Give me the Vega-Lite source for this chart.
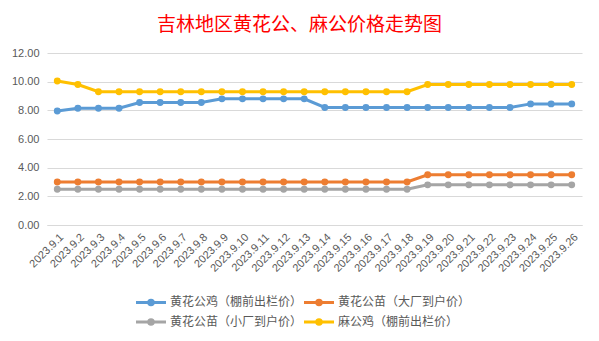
{
  "$schema": "https://vega.github.io/schema/vega-lite/v6.json",
  "width": 535,
  "height": 172,
  "autosize": {"type": "none"},
  "padding": {"left": 47, "top": 53, "right": 17, "bottom": 116},
  "background": "white",
  "title": {
    "text": "吉林地区黄花公、麻公价格走势图",
    "color": "#FF0000",
    "font": "Noto Sans CJK SC",
    "fontSize": 19,
    "fontWeight": "normal",
    "anchor": "middle",
    "dx": -15,
    "offset": 12
  },
  "data": {"values": [
    {"d":"2023.9.1","s":"黄花公鸡（棚前出栏价）","v":7.95},
    {"d":"2023.9.2","s":"黄花公鸡（棚前出栏价）","v":8.15},
    {"d":"2023.9.3","s":"黄花公鸡（棚前出栏价）","v":8.15},
    {"d":"2023.9.4","s":"黄花公鸡（棚前出栏价）","v":8.15},
    {"d":"2023.9.5","s":"黄花公鸡（棚前出栏价）","v":8.55},
    {"d":"2023.9.6","s":"黄花公鸡（棚前出栏价）","v":8.55},
    {"d":"2023.9.7","s":"黄花公鸡（棚前出栏价）","v":8.55},
    {"d":"2023.9.8","s":"黄花公鸡（棚前出栏价）","v":8.55},
    {"d":"2023.9.9","s":"黄花公鸡（棚前出栏价）","v":8.8},
    {"d":"2023.9.10","s":"黄花公鸡（棚前出栏价）","v":8.8},
    {"d":"2023.9.11","s":"黄花公鸡（棚前出栏价）","v":8.8},
    {"d":"2023.9.12","s":"黄花公鸡（棚前出栏价）","v":8.8},
    {"d":"2023.9.13","s":"黄花公鸡（棚前出栏价）","v":8.8},
    {"d":"2023.9.14","s":"黄花公鸡（棚前出栏价）","v":8.2},
    {"d":"2023.9.15","s":"黄花公鸡（棚前出栏价）","v":8.2},
    {"d":"2023.9.16","s":"黄花公鸡（棚前出栏价）","v":8.2},
    {"d":"2023.9.17","s":"黄花公鸡（棚前出栏价）","v":8.2},
    {"d":"2023.9.18","s":"黄花公鸡（棚前出栏价）","v":8.2},
    {"d":"2023.9.19","s":"黄花公鸡（棚前出栏价）","v":8.2},
    {"d":"2023.9.20","s":"黄花公鸡（棚前出栏价）","v":8.2},
    {"d":"2023.9.21","s":"黄花公鸡（棚前出栏价）","v":8.2},
    {"d":"2023.9.22","s":"黄花公鸡（棚前出栏价）","v":8.2},
    {"d":"2023.9.23","s":"黄花公鸡（棚前出栏价）","v":8.2},
    {"d":"2023.9.24","s":"黄花公鸡（棚前出栏价）","v":8.45},
    {"d":"2023.9.25","s":"黄花公鸡（棚前出栏价）","v":8.45},
    {"d":"2023.9.26","s":"黄花公鸡（棚前出栏价）","v":8.45},
    {"d":"2023.9.1","s":"黄花公苗（大厂到户价）","v":3.0},
    {"d":"2023.9.2","s":"黄花公苗（大厂到户价）","v":3.0},
    {"d":"2023.9.3","s":"黄花公苗（大厂到户价）","v":3.0},
    {"d":"2023.9.4","s":"黄花公苗（大厂到户价）","v":3.0},
    {"d":"2023.9.5","s":"黄花公苗（大厂到户价）","v":3.0},
    {"d":"2023.9.6","s":"黄花公苗（大厂到户价）","v":3.0},
    {"d":"2023.9.7","s":"黄花公苗（大厂到户价）","v":3.0},
    {"d":"2023.9.8","s":"黄花公苗（大厂到户价）","v":3.0},
    {"d":"2023.9.9","s":"黄花公苗（大厂到户价）","v":3.0},
    {"d":"2023.9.10","s":"黄花公苗（大厂到户价）","v":3.0},
    {"d":"2023.9.11","s":"黄花公苗（大厂到户价）","v":3.0},
    {"d":"2023.9.12","s":"黄花公苗（大厂到户价）","v":3.0},
    {"d":"2023.9.13","s":"黄花公苗（大厂到户价）","v":3.0},
    {"d":"2023.9.14","s":"黄花公苗（大厂到户价）","v":3.0},
    {"d":"2023.9.15","s":"黄花公苗（大厂到户价）","v":3.0},
    {"d":"2023.9.16","s":"黄花公苗（大厂到户价）","v":3.0},
    {"d":"2023.9.17","s":"黄花公苗（大厂到户价）","v":3.0},
    {"d":"2023.9.18","s":"黄花公苗（大厂到户价）","v":3.0},
    {"d":"2023.9.19","s":"黄花公苗（大厂到户价）","v":3.5},
    {"d":"2023.9.20","s":"黄花公苗（大厂到户价）","v":3.5},
    {"d":"2023.9.21","s":"黄花公苗（大厂到户价）","v":3.5},
    {"d":"2023.9.22","s":"黄花公苗（大厂到户价）","v":3.5},
    {"d":"2023.9.23","s":"黄花公苗（大厂到户价）","v":3.5},
    {"d":"2023.9.24","s":"黄花公苗（大厂到户价）","v":3.5},
    {"d":"2023.9.25","s":"黄花公苗（大厂到户价）","v":3.5},
    {"d":"2023.9.26","s":"黄花公苗（大厂到户价）","v":3.5},
    {"d":"2023.9.1","s":"黄花公苗（小厂到户价）","v":2.5},
    {"d":"2023.9.2","s":"黄花公苗（小厂到户价）","v":2.5},
    {"d":"2023.9.3","s":"黄花公苗（小厂到户价）","v":2.5},
    {"d":"2023.9.4","s":"黄花公苗（小厂到户价）","v":2.5},
    {"d":"2023.9.5","s":"黄花公苗（小厂到户价）","v":2.5},
    {"d":"2023.9.6","s":"黄花公苗（小厂到户价）","v":2.5},
    {"d":"2023.9.7","s":"黄花公苗（小厂到户价）","v":2.5},
    {"d":"2023.9.8","s":"黄花公苗（小厂到户价）","v":2.5},
    {"d":"2023.9.9","s":"黄花公苗（小厂到户价）","v":2.5},
    {"d":"2023.9.10","s":"黄花公苗（小厂到户价）","v":2.5},
    {"d":"2023.9.11","s":"黄花公苗（小厂到户价）","v":2.5},
    {"d":"2023.9.12","s":"黄花公苗（小厂到户价）","v":2.5},
    {"d":"2023.9.13","s":"黄花公苗（小厂到户价）","v":2.5},
    {"d":"2023.9.14","s":"黄花公苗（小厂到户价）","v":2.5},
    {"d":"2023.9.15","s":"黄花公苗（小厂到户价）","v":2.5},
    {"d":"2023.9.16","s":"黄花公苗（小厂到户价）","v":2.5},
    {"d":"2023.9.17","s":"黄花公苗（小厂到户价）","v":2.5},
    {"d":"2023.9.18","s":"黄花公苗（小厂到户价）","v":2.5},
    {"d":"2023.9.19","s":"黄花公苗（小厂到户价）","v":2.8},
    {"d":"2023.9.20","s":"黄花公苗（小厂到户价）","v":2.8},
    {"d":"2023.9.21","s":"黄花公苗（小厂到户价）","v":2.8},
    {"d":"2023.9.22","s":"黄花公苗（小厂到户价）","v":2.8},
    {"d":"2023.9.23","s":"黄花公苗（小厂到户价）","v":2.8},
    {"d":"2023.9.24","s":"黄花公苗（小厂到户价）","v":2.8},
    {"d":"2023.9.25","s":"黄花公苗（小厂到户价）","v":2.8},
    {"d":"2023.9.26","s":"黄花公苗（小厂到户价）","v":2.8},
    {"d":"2023.9.1","s":"麻公鸡（棚前出栏价）","v":10.05},
    {"d":"2023.9.2","s":"麻公鸡（棚前出栏价）","v":9.8},
    {"d":"2023.9.3","s":"麻公鸡（棚前出栏价）","v":9.3},
    {"d":"2023.9.4","s":"麻公鸡（棚前出栏价）","v":9.3},
    {"d":"2023.9.5","s":"麻公鸡（棚前出栏价）","v":9.3},
    {"d":"2023.9.6","s":"麻公鸡（棚前出栏价）","v":9.3},
    {"d":"2023.9.7","s":"麻公鸡（棚前出栏价）","v":9.3},
    {"d":"2023.9.8","s":"麻公鸡（棚前出栏价）","v":9.3},
    {"d":"2023.9.9","s":"麻公鸡（棚前出栏价）","v":9.3},
    {"d":"2023.9.10","s":"麻公鸡（棚前出栏价）","v":9.3},
    {"d":"2023.9.11","s":"麻公鸡（棚前出栏价）","v":9.3},
    {"d":"2023.9.12","s":"麻公鸡（棚前出栏价）","v":9.3},
    {"d":"2023.9.13","s":"麻公鸡（棚前出栏价）","v":9.3},
    {"d":"2023.9.14","s":"麻公鸡（棚前出栏价）","v":9.3},
    {"d":"2023.9.15","s":"麻公鸡（棚前出栏价）","v":9.3},
    {"d":"2023.9.16","s":"麻公鸡（棚前出栏价）","v":9.3},
    {"d":"2023.9.17","s":"麻公鸡（棚前出栏价）","v":9.3},
    {"d":"2023.9.18","s":"麻公鸡（棚前出栏价）","v":9.3},
    {"d":"2023.9.19","s":"麻公鸡（棚前出栏价）","v":9.8},
    {"d":"2023.9.20","s":"麻公鸡（棚前出栏价）","v":9.8},
    {"d":"2023.9.21","s":"麻公鸡（棚前出栏价）","v":9.8},
    {"d":"2023.9.22","s":"麻公鸡（棚前出栏价）","v":9.8},
    {"d":"2023.9.23","s":"麻公鸡（棚前出栏价）","v":9.8},
    {"d":"2023.9.24","s":"麻公鸡（棚前出栏价）","v":9.8},
    {"d":"2023.9.25","s":"麻公鸡（棚前出栏价）","v":9.8},
    {"d":"2023.9.26","s":"麻公鸡（棚前出栏价）","v":9.8}
  ]},
  "mark": {"type": "line", "strokeWidth": 3, "point": {"filled": true, "size": 48, "opacity": 1}},
  "encoding": {
    "x": {
      "field": "d", "type": "ordinal", "sort": null,
      "scale": {"type": "point", "padding": 0.5},
      "axis": {
        "title": null, "labelAngle": -45, "ticks": false, "grid": false,
        "domainColor": "#D9D9D9", "domainWidth": 1,
        "labelColor": "#595959", "labelFontSize": 11, "labelFont": "Liberation Sans",
        "labelPadding": 6
      }
    },
    "y": {
      "field": "v", "type": "quantitative",
      "scale": {"domain": [0, 12]},
      "axis": {
        "title": null, "values": [0, 2, 4, 6, 8, 10, 12], "format": ".2f",
        "domain": false, "ticks": false, "gridColor": "#D9D9D9", "gridWidth": 1,
        "labelColor": "#595959", "labelFontSize": 11, "labelFont": "Liberation Sans",
        "labelPadding": 8
      }
    },
    "color": {
      "field": "s", "type": "nominal",
      "scale": {
        "domain": ["黄花公鸡（棚前出栏价）", "黄花公苗（大厂到户价）", "黄花公苗（小厂到户价）", "麻公鸡（棚前出栏价）"],
        "range": ["#5B9BD5", "#ED7D31", "#A5A5A5", "#FFC000"]
      },
      "legend": {
        "title": null, "orient": "none", "legendX": 95, "legendY": 240,
        "direction": "horizontal", "columns": 2, "columnPadding": -5, "rowPadding": 2,
        "symbolType": "M-2,0L2,0M-0.3,0A0.3,0.3 0 1 0 0.3,0A0.3,0.3 0 1 0 -0.3,0Z",
        "symbolSize": 225, "symbolStrokeWidth": 3, "symbolOpacity": 1,
        "labelFont": "Noto Sans CJK SC", "labelFontSize": 12, "labelColor": "#595959",
        "labelOffset": 10
      }
    }
  },
  "config": {"view": {"stroke": null}}
}
